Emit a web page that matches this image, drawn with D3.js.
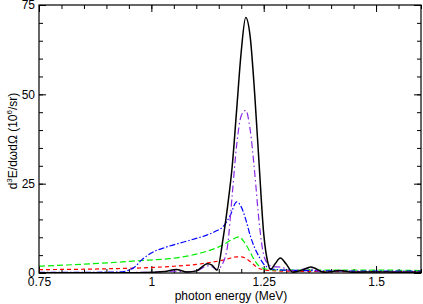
<!DOCTYPE html>
<html>
<head>
<meta charset="utf-8">
<script src="https://cdn.jsdelivr.net/npm/d3@7"></script>
<style>
  body { margin: 0; background: #fff; }
  svg text { font-family: "Liberation Sans", Arial, sans-serif; }
  .axis text { font-size: 12px; fill: #000; }
  .axis line { stroke: #000; }
</style>
</head>
<body>
<div id="chart"></div>
<script>
// photon energy (MeV) and d3E/dw dOmega (10^6/sr)
const blackE = [0.75, 0.85, 0.92, 0.97, 1.0, 1.03, 1.055, 1.08, 1.1, 1.125, 1.135, 1.146, 1.16, 1.17, 1.18, 1.19, 1.2, 1.21, 1.22, 1.23, 1.24, 1.25, 1.26, 1.265, 1.275, 1.287, 1.3, 1.315, 1.335, 1.355, 1.385, 1.42, 1.45, 1.5, 1.55, 1.6];
const blackV = [0.05, 0.05, 0.1, 0.1, 0.2, 0.4, 1.0, 0.3, 0.6, 2.6, 2.2, 0.8, 10, 19, 30, 46, 62, 71.5, 66, 50, 30, 11, 2.5, 1.0, 2.5, 4.2, 2.5, 0.2, 0.8, 1.7, 0.2, 0.7, 0.2, 0.3, 0.2, 0.2];

const purpleE = [0.75, 0.9, 1.0, 1.05, 1.08, 1.1, 1.125, 1.135, 1.146, 1.16, 1.17, 1.18, 1.19, 1.2, 1.21, 1.22, 1.23, 1.24, 1.25, 1.26, 1.27, 1.29, 1.31, 1.35, 1.38, 1.42, 1.5, 1.6];
const purpleV = [0.05, 0.1, 0.2, 0.5, 0.3, 0.5, 2.0, 1.8, 1.0, 3, 8, 22, 36, 44, 45.5, 40, 28, 14, 5, 2.5, 1.8, 1.6, 0.6, 1.2, 0.3, 0.5, 0.3, 0.3];

const blueE = [0.75, 0.85, 0.93, 0.95, 0.963, 0.978, 0.997, 1.034, 1.07, 1.1, 1.123, 1.145, 1.16, 1.175, 1.19, 1.2, 1.21, 1.22, 1.23, 1.24, 1.25, 1.26, 1.27, 1.3, 1.4, 1.5, 1.6];
const blueV = [0.2, 0.2, 0.3, 0.8, 1.7, 3.6, 5.4, 7.3, 8.6, 9.7, 10.6, 11.8, 13, 16, 19.9, 18.5, 15, 10.5, 7, 4.5, 2.5, 1.5, 1.1, 0.8, 0.6, 0.5, 0.5];

const greenE = [0.75, 0.91, 0.99, 1.04, 1.1, 1.16, 1.18, 1.195, 1.21, 1.22, 1.23, 1.24, 1.26, 1.3, 1.4, 1.5, 1.6];
const greenV = [1.9, 2.9, 3.6, 4.0, 5.3, 7.9, 9.4, 10.1, 8.0, 5.8, 3.5, 1.9, 1.0, 0.8, 0.8, 0.8, 0.7];

const redE = [0.75, 0.91, 1.04, 1.1, 1.16, 1.19, 1.2, 1.22, 1.235, 1.255, 1.3, 1.4, 1.6];
const redV = [0.95, 1.2, 1.8, 2.4, 3.6, 4.5, 4.5, 3.2, 1.6, 0.8, 0.5, 0.4, 0.4];

const xMajor = [0.75, 1, 1.25, 1.5];
const yMajor = [0, 25, 50, 75];

function chart() {
  const width = 423, height = 304;
  const left = 39, right = 421, top = 5, bottom = 273;

  const x = d3.scaleLinear().domain([0.75, 1.6]).range([left, right]);
  const y = d3.scaleLinear().domain([0, 75]).range([bottom, top]);

  const svg = d3.select("#chart").append("svg")
    .attr("width", width)
    .attr("height", height);

  const xMinor = d3.range(0.75, 1.6001, 0.05);
  const yMinor = d3.range(0, 75.001, 5);

  // ticks point inward on all four sides
  const addAxis = (axis, tr, cls) => {
    const g = svg.append("g").attr("class", "axis " + cls)
      .attr("transform", tr).call(axis);
    g.select(".domain").remove();
    return g;
  };
  addAxis(d3.axisBottom(x).tickValues(xMinor).tickSize(-4).tickFormat(""), `translate(0,${bottom})`, "xm");
  addAxis(d3.axisTop(x).tickValues(xMinor).tickSize(-4).tickFormat(""), `translate(0,${top})`, "xm");
  addAxis(d3.axisLeft(y).tickValues(yMinor).tickSize(-4).tickFormat(""), `translate(${left},0)`, "ym");
  addAxis(d3.axisRight(y).tickValues(yMinor).tickSize(-4).tickFormat(""), `translate(${right},0)`, "ym");

  addAxis(d3.axisBottom(x).tickValues(xMajor).tickSize(-7).tickPadding(4).tickFormat(d3.format("")), `translate(0,${bottom})`, "x");
  addAxis(d3.axisTop(x).tickValues(xMajor).tickSize(-7).tickFormat(""), `translate(0,${top})`, "x");
  addAxis(d3.axisLeft(y).tickValues(yMajor).tickSize(-7).tickPadding(4), `translate(${left},0)`, "y");
  addAxis(d3.axisRight(y).tickValues(yMajor).tickSize(-7).tickFormat(""), `translate(${right},0)`, "y");

  svg.selectAll(".axis line").attr("stroke-width", 1);

  svg.append("clipPath").attr("id", "plot")
    .append("rect").attr("x", left).attr("y", top)
    .attr("width", right - left).attr("height", bottom - top);

  const series = [
    { e: redE, v: redV, color: "#ff0000", dash: "4,3", w: 1.2 },
    { e: greenE, v: greenV, color: "#00ee00", dash: "6,3", w: 1.2 },
    { e: blueE, v: blueV, color: "#0000ff", dash: "6,2,1.5,2", w: 1.2 },
    { e: purpleE, v: purpleV, color: "#8a2be2", dash: "7,3,1.5,3", w: 1.2 },
    { e: blackE, v: blackV, color: "#000000", dash: null, w: 1.5 }
  ];

  const line = d3.line()
    .x(d => x(d[0]))
    .y(d => y(d[1]))
    .curve(d3.curveMonotoneX);

  series.forEach(s => {
    svg.append("path")
      .datum(d3.zip(s.e, s.v))
      .attr("clip-path", "url(#plot)")
      .attr("fill", "none")
      .attr("stroke", s.color)
      .attr("stroke-width", s.w)
      .attr("stroke-dasharray", s.dash)
      .attr("d", line);
  });

  svg.append("rect")
    .attr("x", left).attr("y", top)
    .attr("width", right - left).attr("height", bottom - top)
    .attr("fill", "none").attr("stroke", "#000").attr("stroke-width", 1.2);

  svg.append("text")
    .attr("x", 231).attr("y", 300)
    .attr("text-anchor", "middle")
    .attr("font-size", 12)
    .text("photon energy (MeV)");

  const yl = svg.append("text")
    .attr("transform", "translate(17,141) rotate(-90)")
    .attr("text-anchor", "middle")
    .attr("font-size", 12);
  yl.append("tspan").text("d");
  yl.append("tspan").attr("dy", -5).attr("font-size", 8).text("3");
  yl.append("tspan").attr("dy", 5).text("E/d\u03c9d\u03a9  (10");
  yl.append("tspan").attr("dy", -5).attr("font-size", 8).text("6");
  yl.append("tspan").attr("dy", 5).text("/sr)");
}

chart();
</script>
</body>
</html>
